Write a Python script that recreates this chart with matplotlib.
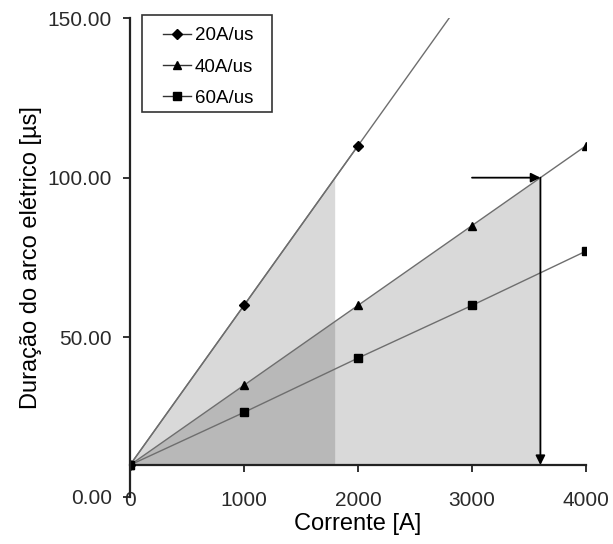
import matplotlib.pyplot as plt
from matplotlib.patches import Polygon, Rectangle

plt.rcParams['font.family'] = ['Liberation Sans', 'DejaVu Sans']

corrente = [0, 1000, 2000, 3000, 4000]
dur_20 = [10, 60, 110]
dur_40 = [10, 35, 60, 85, 110]
dur_60 = [10, 26.5, 43.5, 60, 77]
# 20A/us line runs on past the last point until it leaves the plot
ext_20_x = 2800
ext_20_y = 150

# shaded zones and arrow reading at 100 us
lim_y = 100
x_20 = 1800
x_40 = 3600
arrow_start = 3000
base_y = 10

fig = plt.figure(figsize=(6.13, 5.44), dpi=100)
ax = fig.add_axes([0.212, 0.0864, 0.744, 0.8805])

# shaded triangles (overlap gets darker)
ax.add_patch(Polygon([(0, base_y), (x_20, lim_y), (x_20, base_y)], closed=True,
                     facecolor='black', alpha=0.15, edgecolor='none', zorder=1))
ax.add_patch(Polygon([(0, base_y), (x_40, lim_y), (x_40, base_y)], closed=True,
                     facecolor='black', alpha=0.15, edgecolor='none', zorder=1))

line_kw = dict(color='#6e6e6e', lw=1.0, mfc='black', mec='black', zorder=3)
ax.plot([0, ext_20_x], [base_y, ext_20_y], color='#6e6e6e', lw=1.0, zorder=2)
ax.plot(corrente[:3], dur_20, marker='D', ms=5.5, label='20A/us', **line_kw)
ax.plot(corrente, dur_40, marker='^', ms=6, label='40A/us', **line_kw)
ax.plot(corrente, dur_60, marker='s', ms=5.5, label='60A/us', **line_kw)

# arrows
ax.annotate('', xy=(x_40, lim_y), xytext=(arrow_start, lim_y),
            arrowprops=dict(arrowstyle='-|>', color='black', lw=1.3,
                            mutation_scale=14, shrinkA=0, shrinkB=0), zorder=4)
ax.annotate('', xy=(x_40, base_y), xytext=(x_40, lim_y),
            arrowprops=dict(arrowstyle='-|>', color='black', lw=1.3,
                            mutation_scale=14, shrinkA=0, shrinkB=0), zorder=4)

ax.set_xlim(0, 4000)
ax.set_ylim(0, 150)
ax.set_xticks(corrente)
ax.set_xticklabels(['0', '1000', '2000', '3000', '4000'])
ax.set_yticks([0, 50, 100, 150])
ax.set_yticklabels(['0.00', '50.00', '100.00', '150.00'])
ax.tick_params(labelsize=15, direction='out', length=5, width=1.3,
               colors='#222222', labelcolor='#2a2a2a')
ax.tick_params(axis='x', pad=14)
ax.tick_params(axis='y', pad=8)

for s in ['top', 'right']:
    ax.spines[s].set_visible(False)
for s in ['left', 'bottom']:
    ax.spines[s].set_linewidth(1.6)
    ax.spines[s].set_color('#222222')
ax.spines['bottom'].set_position(('data', base_y))
ax.spines['left'].set_zorder(5)

ax.set_xlabel('Corrente [A]', fontsize=17, labelpad=2)
ax.set_ylabel('Duração do arco elétrico [µs]', fontsize=17, labelpad=4)

# legend entries without frame, frame drawn separately to get its wide box
leg = ax.legend(loc='upper left', bbox_to_anchor=(163 / 613, 1 - 27 / 544),
                bbox_transform=fig.transFigure, borderaxespad=0, fontsize=13.5,
                frameon=False, handlelength=1.5, handletextpad=0.2,
                labelspacing=0.76, borderpad=0)
for h in leg.get_lines():
    h.set_color('#333333')
fig.patches.append(Rectangle((142 / 613, 1 - 112 / 544), 130 / 613, 97 / 544,
                             transform=fig.transFigure, fill=False,
                             edgecolor='#333333', lw=1.2))

fig.savefig('out.png', dpi=100)
